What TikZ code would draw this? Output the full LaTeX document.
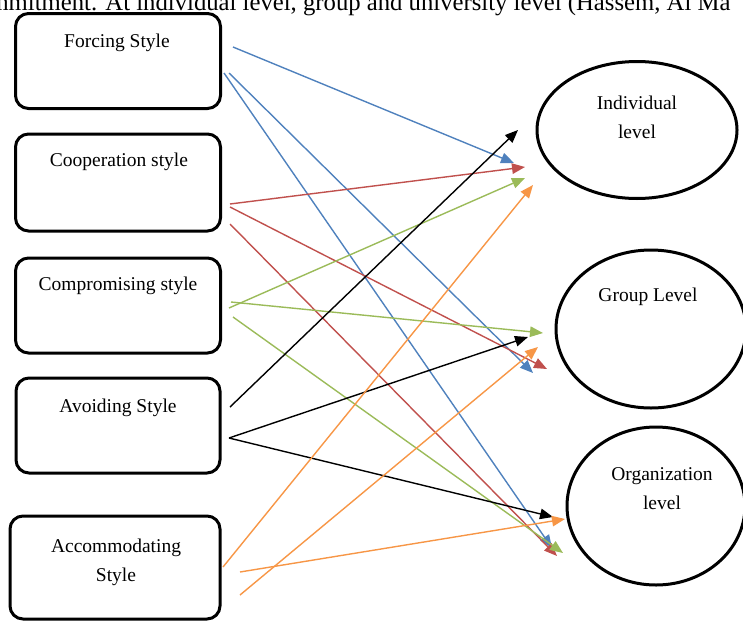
\documentclass[tikz,border=0pt]{standalone}
\usepackage{fontspec}
\setmainfont{Liberation Serif}
\usepackage{xcolor}
\usetikzlibrary{arrows.meta,shapes.geometric,positioning}

\definecolor{lnblue}{HTML}{4F81BD}
\definecolor{lnred}{HTML}{C0504D}
\definecolor{lngreen}{HTML}{9BBB59}
\definecolor{lnorange}{HTML}{F79646}

\tikzset{
  stylebox/.style={draw, rectangle, rounded corners=13pt, line width=3pt, minimum width=205pt, minimum height=95pt},
  levelnode/.style={draw, ellipse, line width=3pt},
  lbl/.style={font=\fontsize{19.5}{29}\selectfont, align=center, inner sep=0pt},
  link/.style={line width=1.4pt, -{Triangle[length=13pt,width=10.5pt]}}
}

\begin{document}
\begin{tikzpicture}[x=1pt,y=-1pt]
\useasboundingbox (0,0) rectangle (743,621);
\clip (0,0) rectangle (743,621);

% line of running text cut off at the top
\node[anchor=base west, inner sep=0pt, font=\fontsize{24.7}{28}\selectfont] (runtext) at (-34,10)
  {commitment. At individual level, group and university level (Hassem, Al Ma};

% the five styles
\node[stylebox] (forcing) at (118,61) {};
\node[stylebox, minimum height=97pt] (cooperation) at (118,182.5) {};
\node[stylebox] (compromising) at (118,305.5) {};
\node[stylebox, minimum width=204pt] (avoiding) at (118,425.5) {};
\node[stylebox, minimum width=210pt, minimum height=103pt] (accommodating) at (115,567.5) {};

\node[lbl] (forcingtxt) at (117,43) {Forcing Style};
\node[lbl] (cooperationtxt) at (119,162) {Cooperation style};
\node[lbl] (compromisingtxt) at (118,286) {Compromising style};
\node[lbl] (avoidingtxt) at (118,408) {Avoiding Style};
\node[lbl] (accommodatingtxt) at (116,562) {Accommodating\\Style};

% the three levels
\node[levelnode, minimum width=200pt, minimum height=137pt] (individual) at (637,130) {};
\node[levelnode, minimum width=190pt, minimum height=158pt] (group) at (651,329) {};
\node[levelnode, minimum width=178pt, minimum height=158pt] (organization) at (656,506) {};

\node[lbl] (individualtxt) at (637,117.5) {Individual\\level};
\node[lbl] (grouptxt) at (648,297) {Group Level};
\node[lbl] (organizationtxt) at (662,489) {Organization\\level};

% arrow ends
\foreach \n/\x/\y in {f1/233/47, f2/229/73, f3/224/73,
                      c1/230/204, c2/230/207, c3/230/224,
                      m1/229/308, m2/231/302, m3/233/317,
                      a1/230/407, a2/229/438,
                      o1/223/567, o2/240/595, o3/240/572,
                      i1/514/163, i2/525/167, i3/525/178, i4/533/185, i5/518/130,
                      g1/543/333, g2/528/337, g3/538/347, g4/547/369, g5/533/373,
                      z1/553/517, z2/565/519, z3/552/548, z4/557/556, z5/563/553}
  \coordinate (\n) at (\x,\y);

% connectors
\foreach \a/\b/\c in {f1/i1/lnblue, f2/g5/lnblue, f3/z3/lnblue,
                      c1/i2/lnred, c2/g4/lnred, c3/z4/lnred,
                      m1/i3/lngreen, m2/g1/lngreen, m3/z5/lngreen,
                      a1/i5/black, a2/g2/black, a2/z1/black,
                      o1/i4/lnorange, o2/g3/lnorange, o3/z2/lnorange}
  \draw[link, \c] (\a) -- (\b);
\end{tikzpicture}
\end{document}
